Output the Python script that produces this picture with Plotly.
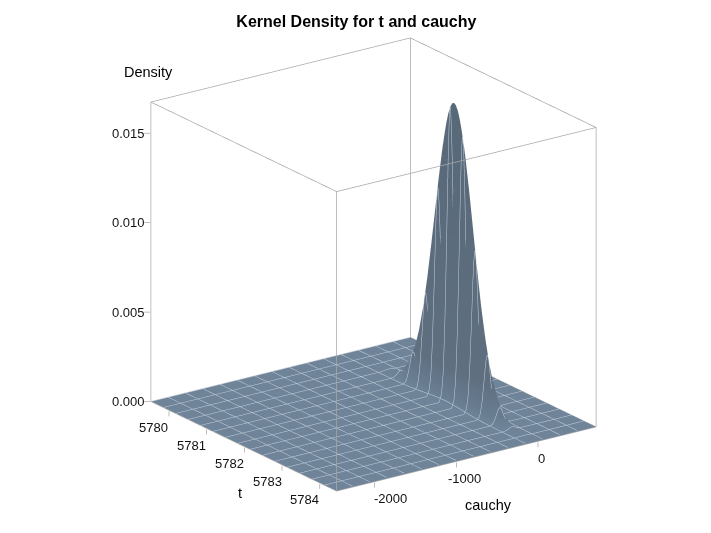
import numpy as np
import plotly.graph_objects as go

TITLE = "Kernel Density for t and cauchy"
T_RANGE = [5779.52, 5784.45]
C_RANGE = [-2465, 710]
Z_RANGE = [0, 0.01674]

t_values = [5779.52, 5780.25, 5780.45, 5780.65, 5780.85, 5781.05, 5781.25, 5781.35, 5781.45, 5781.55, 5781.65, 5781.75,
            5781.85, 5781.95, 5782.0, 5782.05, 5782.1, 5782.15, 5782.2, 5782.25, 5782.3, 5782.35, 5782.4,
            5782.45, 5782.5, 5782.55, 5782.65, 5782.75, 5782.85, 5782.95, 5783.05, 5783.15, 5783.25,
            5783.45, 5783.65, 5783.85, 5784.05, 5784.45]
ridge_density = [0, 0, 0.00003, 0.0001, 0.00033, 0.00094, 0.00226, 0.0033, 0.00464, 0.00626, 0.00814, 0.01013,
                 0.01213, 0.01395, 0.01473, 0.01541, 0.01597, 0.01637, 0.01662, 0.0167, 0.01662, 0.01637, 0.01597,
                 0.01541, 0.01473, 0.01395, 0.01213, 0.01013, 0.00814, 0.00626, 0.00464, 0.0033, 0.00226,
                 0.00094, 0.00033, 0.0001, 0.00003, 0]

cauchy_values = [-2465, -300, -150, -120, -100, -80, -60, -40, -30, -20, -15, -10, 0, 10, 20, 40, 60, 80, 120, 200, 710]
cross_section = [0, 0, 0, 0.03, 0.10, 0.27, 0.53, 0.82, 0.93, 0.99, 1.0, 0.99, 0.93, 0.82, 0.68, 0.39, 0.17, 0.06, 0.01, 0, 0]

t_axis_ticks = [5780, 5781, 5782, 5783, 5784]
cauchy_ticks = [-2000, -1000, 0]
density_ticks = [0.0, 0.005, 0.010, 0.015]
density_labels = ["0.000", "0.005", "0.010", "0.015"]

density = np.outer(ridge_density, cross_section)
shade = np.clip(density / 0.0167, 0, 1)

FLOOR = "#6f8499"
WALL = "#5f6f80"
GRID = "#c4d0dc"
EDGE = "#a8a8a8"
FONT = "Liberation Sans"

fig = go.Figure()
fig.add_trace(go.Surface(
    x=t_values, y=cauchy_values, z=density.T, surfacecolor=shade.T, cmin=0, cmax=1,
    colorscale=[[0, FLOOR], [0.03, "#687c90"], [0.12, WALL], [1, "#576878"]], showscale=False, hoverinfo="skip",
    lighting=dict(ambient=1, diffuse=0, specular=0, roughness=1, fresnel=0),
    contours=dict(
        x=dict(show=True, start=T_RANGE[0], end=T_RANGE[1], size=(T_RANGE[1]-T_RANGE[0])/15, color=GRID, width=2),
        y=dict(show=True, start=C_RANGE[0], end=C_RANGE[1], size=(C_RANGE[1]-C_RANGE[0])/15, color=GRID, width=2),
    ),
))

tl, th = T_RANGE
cl, ch = C_RANGE
zl, zh = Z_RANGE
box = [(tl, cl, zl), (th, cl, zl), (th, ch, zl), (tl, ch, zl), (tl, cl, zl),
       (tl, cl, zh), (th, cl, zh), (th, ch, zh), (tl, ch, zh), (tl, cl, zh), (None, None, None),
       (th, cl, zl), (th, cl, zh), (None, None, None),
       (th, ch, zl), (th, ch, zh), (None, None, None),
       (tl, ch, zl), (tl, ch, zh)]
T_PAD, C_PAD, Z_PAD = 0.06, 60, 0.00034
for v in t_axis_ticks:
    box += [(None, None, None), (v, cl, zl - Z_PAD * 0.15), (v, cl, zl - Z_PAD)]
for v in cauchy_ticks:
    box += [(None, None, None), (th, v, zl - Z_PAD * 0.15), (th, v, zl - Z_PAD)]
for v in density_ticks:
    box += [(None, None, None), (tl - T_PAD * 0.1, cl - C_PAD * 0.1, v), (tl - T_PAD, cl - C_PAD * 0.9, v)]
fig.add_trace(go.Scatter3d(x=[p[0] for p in box], y=[p[1] for p in box], z=[p[2] for p in box],
                           mode="lines", line=dict(color=EDGE, width=1.5), hoverinfo="skip", showlegend=False))

axis = dict(showgrid=False, zeroline=False, showline=False, showbackground=False, showspikes=False,
            ticks="", showticklabels=False, title=dict(text=""))


def label(text, x, y, z, dx, dy, size=13, color="#111111"):
    return dict(text=text, x=x, y=y, z=z, xshift=dx, yshift=dy, showarrow=False,
                font=dict(family=FONT, size=size, color=color))


notes = []
for v in t_axis_ticks:
    notes.append(label(str(v), v, cl, zl, -15, -17))
cauchy_shift = {-2000: 16, -1000: 8, 0: 3}
for v in cauchy_ticks:
    notes.append(label(str(v), th, v, zl, cauchy_shift[v], -17))
for v, s in zip(density_ticks, density_labels):
    notes.append(label(s, tl, cl, v, -22, 0))
notes.append(label("Density", tl, cl, zh, -2, 30, 14.5, "black"))
notes.append(label("t", 5782, cl, zl, -4, -46, 14.5, "black"))
notes.append(label("cauchy", th, -1000, zl, 32, -43, 14.5, "black"))

el = np.radians(20.2)
az = np.radians(-35.6)
r = 2.0
S = 1.244
fig.update_layout(
    width=711, height=533, paper_bgcolor="white",
    margin=dict(l=0, r=0, t=0, b=0, pad=0, autoexpand=False), showlegend=False,
    title=dict(text="<b>%s</b>" % TITLE, x=0.49, xanchor="center", y=0.974, yanchor="middle",
               font=dict(family=FONT, size=16, color="black")),
    scene=dict(
        domain=dict(x=[20/711, 1], y=[0.0374, 1]),
        aspectmode="manual",
        aspectratio=dict(x=S * (th - tl + 2 * T_PAD) / (th - tl),
                         y=S * (ch - cl + 2 * C_PAD) / (ch - cl),
                         z=S * (zh - zl + 2 * Z_PAD) / (zh - zl)),
        camera=dict(projection=dict(type="orthographic"), up=dict(x=0, y=0, z=1),
                    center=dict(x=0, y=0, z=0),
                    eye=dict(x=r*np.cos(el)*np.cos(az), y=r*np.cos(el)*np.sin(az), z=r*np.sin(el))),
        xaxis=dict(axis, range=[tl - T_PAD, th + T_PAD]),
        yaxis=dict(axis, range=[cl - C_PAD, ch + C_PAD]),
        zaxis=dict(axis, range=[zl - Z_PAD, zh + Z_PAD]),
        annotations=notes,
    ),
)
fig.write_html("out.html")
